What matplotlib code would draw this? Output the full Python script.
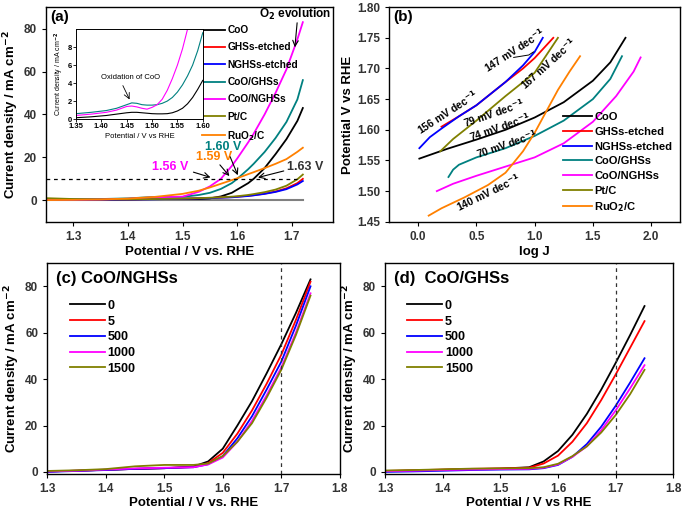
import numpy as np
import matplotlib
matplotlib.use("Agg")
import matplotlib.pyplot as plt

plt.rcParams['font.family'] = ['Liberation Sans', 'DejaVu Sans']
plt.rcParams['font.weight'] = 'bold'
plt.rcParams['axes.labelweight'] = 'bold'
plt.rcParams['axes.linewidth'] = 1.0

C_BLACK = 'black'
C_RED = '#ff0000'
C_BLUE = '#0000ff'
C_TEAL = '#008080'
C_MAG = '#ff00ff'
C_OLIVE = '#808000'
C_ORANGE = '#ff8000'

# ---------------- panel (a): LSV curves ----------------
v_a = [1.25, 1.30, 1.35, 1.40, 1.45, 1.50, 1.53, 1.55, 1.57, 1.59, 1.60, 1.62, 1.63, 1.65, 1.67, 1.69, 1.71, 1.72]
j_coo = [0.1, 0.1, 0.2, 0.4, 0.7, 0.6, 0.6, 0.9, 1.8, 3.5, 5.0, 8.0, 10.0, 15.0, 21.5, 28.5, 37.0, 43.0]
j_ghs_etched = [0.2, 0.2, 0.3, 0.4, 0.6, 0.8, 1.0, 1.1, 1.3, 1.5, 1.7, 2.1, 2.4, 3.1, 4.1, 5.6, 8.0, 10.0]
j_nghs_etched = [0.1, 0.1, 0.2, 0.3, 0.5, 0.7, 0.9, 1.0, 1.2, 1.4, 1.6, 2.0, 2.3, 3.0, 3.9, 5.2, 7.4, 9.0]
j_coo_ghs = [0.5, 0.5, 0.6, 0.9, 1.6, 1.6, 2.5, 3.5, 5.3, 8.0, 10.0, 14.5, 17.0, 22.5, 29.0, 36.5, 47.0, 56.0]
j_coo_nghs = [0.3, 0.3, 0.4, 0.7, 1.4, 1.7, 4.0, 6.5, 10.0, 16.0, 19.5, 27.0, 31.0, 40.0, 50.0, 61.0, 75.0, 83.0]
j_ptc = [1.0, 0.6, 0.4, 0.4, 0.6, 0.8, 1.0, 1.2, 1.4, 1.7, 1.9, 2.5, 2.9, 3.8, 5.0, 6.8, 9.8, 12.0]
j_ruo2 = [0.1, 0.2, 0.4, 0.8, 1.6, 3.0, 4.5, 6.0, 7.7, 9.4, 10.3, 12.2, 13.1, 15.0, 17.0, 19.2, 22.6, 24.5]

# inset (a)
v_in = [1.35, 1.38, 1.41, 1.43, 1.45, 1.46, 1.47, 1.48, 1.49, 1.50, 1.51, 1.52, 1.53, 1.54, 1.55, 1.56, 1.57, 1.58, 1.59, 1.60]
j_in_coo = [0.15, 0.25, 0.4, 0.55, 0.7, 0.75, 0.75, 0.7, 0.65, 0.6, 0.58, 0.58, 0.6, 0.7, 0.9, 1.2, 1.7, 2.4, 3.3, 4.3]
j_in_ghs = [0.6, 0.75, 0.95, 1.2, 1.6, 1.8, 1.75, 1.6, 1.55, 1.55, 1.6, 1.75, 2.0, 2.4, 3.0, 3.8, 4.8, 6.0, 7.6, 9.6]
j_in_nghs = [0.4, 0.55, 0.75, 1.0, 1.4, 1.45, 1.35, 1.2, 1.1, 1.3, 1.6, 2.2, 3.2, 4.5, 6.0, 7.8, 10.0, 12.5, 15.0, 19.0]

# ---------------- panel (b): Tafel plots ----------------
logj_coo = [0.01, 0.25, 0.5, 0.75, 1.0, 1.25, 1.5, 1.65, 1.78]
e_coo = [1.553, 1.569, 1.584, 1.600, 1.620, 1.645, 1.680, 1.710, 1.750]
logj_ghs_e = [0.2, 0.35, 0.5, 0.75, 0.9, 1.0, 1.16]
e_ghs_e = [1.605, 1.622, 1.640, 1.678, 1.700, 1.717, 1.750]
logj_nghs_e = [0.01, 0.1, 0.2, 0.35, 0.5, 0.75, 0.9, 1.0, 1.07]
e_nghs_e = [1.570, 1.588, 1.602, 1.622, 1.640, 1.678, 1.705, 1.727, 1.750]
logj_coo_ghs = [0.26, 0.3, 0.35, 0.5, 0.75, 1.0, 1.25, 1.5, 1.65, 1.75]
e_coo_ghs = [1.523, 1.535, 1.543, 1.555, 1.570, 1.590, 1.615, 1.650, 1.683, 1.720]
logj_coo_nghs = [0.16, 0.3, 0.5, 0.75, 1.0, 1.25, 1.5, 1.7, 1.85, 1.91]
e_coo_nghs = [1.500, 1.512, 1.525, 1.540, 1.555, 1.578, 1.613, 1.655, 1.695, 1.718]
logj_ptc = [0.19, 0.3, 0.5, 0.75, 1.0, 1.2]
e_ptc = [1.565, 1.585, 1.615, 1.655, 1.693, 1.750]
logj_ruo2 = [0.09, 0.2, 0.4, 0.6, 0.75, 0.9, 1.0, 1.1, 1.2, 1.3, 1.39]
e_ruo2 = [1.460, 1.472, 1.490, 1.510, 1.530, 1.565, 1.595, 1.630, 1.665, 1.695, 1.720]

# ---------------- panels (c), (d): stability ----------------
cycles = ['0', '5', '500', '1000', '1500']
cyc_colors = [C_BLACK, C_RED, C_BLUE, C_MAG, C_OLIVE]
v_cd = [1.30, 1.35, 1.40, 1.45, 1.50, 1.55, 1.575, 1.60, 1.625, 1.65, 1.675, 1.70, 1.725, 1.75]
j_c = [
    [0.2, 0.5, 0.9, 1.3, 1.6, 2.3, 4.5, 10.0, 20.0, 30.5, 42.5, 55.0, 68.5, 83.0],
    [0.2, 0.5, 0.9, 1.3, 1.6, 2.1, 3.8, 8.2, 16.5, 26.5, 38.0, 50.5, 65.5, 82.0],
    [0.0, 0.4, 0.8, 1.3, 1.6, 2.0, 3.3, 6.8, 14.5, 24.0, 35.5, 47.5, 63.0, 80.0],
    [0.2, 0.5, 1.0, 1.5, 1.8, 2.0, 3.2, 6.2, 13.0, 22.0, 33.0, 45.0, 60.0, 77.0],
    [0.4, 0.7, 1.2, 2.4, 3.0, 3.0, 3.6, 6.8, 13.0, 21.0, 32.0, 44.0, 59.0, 76.0],
]
j_d = [
    [0.3, 0.6, 0.9, 1.2, 1.4, 2.0, 4.5, 9.0, 16.0, 25.0, 35.5, 47.0, 59.0, 71.5],
    [0.4, 0.7, 1.0, 1.3, 1.5, 1.8, 3.6, 7.0, 13.0, 21.0, 31.0, 42.0, 53.5, 65.0],
    [0.0, 0.2, 0.5, 0.8, 1.0, 1.1, 1.6, 3.0, 6.5, 12.0, 19.5, 28.5, 38.5, 49.0],
    [0.3, 0.5, 0.8, 1.0, 1.2, 1.3, 1.8, 3.2, 6.5, 11.0, 18.0, 26.5, 36.0, 46.0],
    [0.6, 0.8, 1.1, 1.4, 1.5, 1.6, 2.0, 3.5, 6.8, 11.0, 17.0, 24.5, 33.5, 44.0],
]

fig = plt.figure(figsize=(6.85, 5.11), dpi=100)

lab_fs = 9.5
tick_fs = 8.5

def style_ax(ax):
    ax.tick_params(direction='out', labelsize=tick_fs, length=3, width=0.8)
    for lbl in ax.get_xticklabels() + ax.get_yticklabels():
        lbl.set_fontweight('bold')
        lbl.set_color('#333333')

# ---------------- (a) ----------------
ax = fig.add_axes([0.067, 0.566, 0.419, 0.42])
ax.plot([1.25, 1.72], [0, 0], color='#808080', lw=1.5)
series_a = [
    ('CoO', j_coo, C_BLACK),
    ('GHSs-etched', j_ghs_etched, C_RED),
    ('NGHSs-etched', j_nghs_etched, C_BLUE),
    ('CoO/GHSs', j_coo_ghs, C_TEAL),
    ('CoO/NGHSs', j_coo_nghs, C_MAG),
    ('Pt/C', j_ptc, C_OLIVE),
    ('RuO$_2$/C', j_ruo2, C_ORANGE),
]
for name, j, c in series_a:
    ax.plot(v_a, j, color=c, lw=1.3, label=name)
ax.plot([1.25, 1.71], [10, 10], ls=(0, (3, 3)), color='black', lw=0.9)
ax.set_xlim(1.25, 1.775)
ax.set_ylim(-10, 90)
ax.set_xticks([1.3, 1.4, 1.5, 1.6, 1.7])
ax.set_yticks([0, 20, 40, 60, 80])
ax.set_xlabel('Potential / V vs. RHE', fontsize=lab_fs, labelpad=2)
ax.set_ylabel('Current density / mA cm$^{-2}$', fontsize=lab_fs, labelpad=2)
style_ax(ax)
ax.text(0.015, 0.985, '(a)', transform=ax.transAxes, fontsize=11, fontweight='bold', va='top')
ax.legend(loc='upper left', bbox_to_anchor=(0.53, 0.935), fontsize=7.3, frameon=False,
          handlelength=2.3, handletextpad=0.2, labelspacing=0.72, borderaxespad=0)
ax.text(1.772, 86.5, 'O$_2$ evolution', fontsize=8.5, fontweight='bold', ha='right', va='center')
ax.annotate('', xy=(1.705, 70), xytext=(1.71, 84),
            arrowprops=dict(arrowstyle='->', color='black', lw=0.8))
arrow_kw = dict(arrowstyle='->', color='black', lw=0.8)
ax.text(1.478, 15.5, '1.56 V', color=C_MAG, fontsize=9, fontweight='bold', ha='center', va='center')
ax.annotate('', xy=(1.556, 10.3), xytext=(1.515, 13.5), arrowprops=arrow_kw)
ax.text(1.557, 20.0, '1.59 V', color=C_ORANGE, fontsize=9, fontweight='bold', ha='center', va='center')
ax.annotate('', xy=(1.589, 10.3), xytext=(1.565, 17.5), arrowprops=arrow_kw)
ax.text(1.575, 25.0, '1.60 V', color=C_TEAL, fontsize=9, fontweight='bold', ha='center', va='center')
ax.annotate('', xy=(1.603, 10.5), xytext=(1.585, 21.5), arrowprops=arrow_kw)
ax.text(1.725, 15.5, '1.63 V', color='#333333', fontsize=9, fontweight='bold', ha='center', va='center')
ax.annotate('', xy=(1.633, 10.3), xytext=(1.69, 14.0), arrowprops=arrow_kw)

# inset
axi = fig.add_axes([0.111, 0.767, 0.185, 0.176])
axi.plot(v_in, j_in_coo, color=C_BLACK, lw=0.8)
axi.plot(v_in, j_in_ghs, color=C_TEAL, lw=0.8)
axi.plot(v_in, j_in_nghs, color=C_MAG, lw=0.8)
axi.set_xlim(1.35, 1.60)
axi.set_ylim(0, 10)
axi.set_xticks([1.35, 1.40, 1.45, 1.50, 1.55, 1.60])
axi.set_yticks([0, 2, 4, 6, 8])
axi.tick_params(direction='out', labelsize=5.5, length=2, width=0.6, pad=1)
for lbl in axi.get_xticklabels() + axi.get_yticklabels():
    lbl.set_fontweight('bold')
axi.set_xlabel('Potential / V vs RHE', fontsize=5.5, labelpad=2, fontweight='normal')
axi.set_ylabel('Current density / mA cm$^{-2}$', fontsize=5, labelpad=1, fontweight='normal')
for s in axi.spines.values():
    s.set_linewidth(0.7)
axi.text(1.40, 4.6, 'Oxidation of CoO', fontsize=5.5, ha='left', va='center', fontweight='normal')
axi.annotate('', xy=(1.458, 1.9), xytext=(1.44, 4.0),
             arrowprops=dict(arrowstyle='->', color='black', lw=0.6))

# ---------------- (b) ----------------
bx = fig.add_axes([0.568, 0.566, 0.425, 0.42])
series_b = [
    ('CoO', logj_coo, e_coo, C_BLACK),
    ('GHSs-etched', logj_ghs_e, e_ghs_e, C_RED),
    ('NGHSs-etched', logj_nghs_e, e_nghs_e, C_BLUE),
    ('CoO/GHSs', logj_coo_ghs, e_coo_ghs, C_TEAL),
    ('CoO/NGHSs', logj_coo_nghs, e_coo_nghs, C_MAG),
    ('Pt/C', logj_ptc, e_ptc, C_OLIVE),
    ('RuO$_2$/C', logj_ruo2, e_ruo2, C_ORANGE),
]
for name, x, y, c in series_b:
    bx.plot(x, y, color=c, lw=1.3, label=name)
bx.set_xlim(-0.25, 2.25)
bx.set_ylim(1.45, 1.80)
bx.set_xticks([0.0, 0.5, 1.0, 1.5, 2.0])
bx.set_yticks(np.arange(1.45, 1.801, 0.05))
bx.set_yticklabels(['%.2f' % t for t in np.arange(1.45, 1.801, 0.05)])
bx.set_xlabel('log J', fontsize=lab_fs, labelpad=2)
bx.set_ylabel('Potential V vs RHE', fontsize=lab_fs, labelpad=2)
style_ax(bx)
bx.text(0.015, 0.985, '(b)', transform=bx.transAxes, fontsize=11, fontweight='bold', va='top')
bx.legend(loc='lower right', bbox_to_anchor=(1.0, 0.0), fontsize=8, frameon=False,
          handlelength=2.6, handletextpad=0.2, labelspacing=0.42, borderaxespad=0.3)
tf = 7.5
bx.text(0.25, 1.628, '156 mV dec$^{-1}$', fontsize=tf, rotation=33, ha='center', va='center')
bx.text(0.83, 1.729, '147 mV dec$^{-1}$', fontsize=tf, rotation=33, ha='center', va='center')
bx.plot([0.82, 0.95, 0.99], [1.718, 1.722, 1.727], color='black', lw=0.7)
bx.text(1.12, 1.708, '167 mV dec$^{-1}$', fontsize=tf, rotation=42, ha='center', va='center')
bx.text(0.65, 1.627, '79 mV dec$^{-1}$', fontsize=tf, rotation=19, ha='center', va='center')
bx.text(0.70, 1.604, '74 mV dec$^{-1}$', fontsize=tf, rotation=19, ha='center', va='center')
bx.text(0.76, 1.576, '70 mV dec$^{-1}$', fontsize=tf, rotation=19, ha='center', va='center')
bx.text(0.60, 1.497, '140 mV dec$^{-1}$', fontsize=tf, rotation=26, ha='center', va='center')

# ---------------- (c) and (d) ----------------
def stability(pos, curves, title, xlabel):
    a = fig.add_axes(pos)
    for lbl, j, c in zip(cycles, curves, cyc_colors):
        a.plot(v_cd, j, color=c, lw=1.3, label=lbl)
    a.axvline(1.70, ls=(0, (3, 3)), color='#333333', lw=0.9)
    a.set_xlim(1.3, 1.8)
    a.set_ylim(-1, 90)
    a.set_xticks([1.3, 1.4, 1.5, 1.6, 1.7, 1.8])
    a.set_yticks([0, 20, 40, 60, 80])
    a.set_xlabel(xlabel, fontsize=lab_fs, labelpad=1)
    a.set_ylabel('Current density / mA cm$^{-2}$', fontsize=lab_fs, labelpad=2)
    style_ax(a)
    a.text(0.03, 0.965, title, transform=a.transAxes, fontsize=12, fontweight='bold', va='top')
    a.legend(loc='upper left', bbox_to_anchor=(0.06, 0.85), frameon=False,
             handlelength=2.8, handletextpad=0.2, labelspacing=0.3, borderaxespad=0,
             prop={'weight': 'bold', 'size': 9})
    return a

stability([0.069, 0.072, 0.427, 0.413], j_c, '(c) CoO/NGHSs', 'Potential / V vs. RHE')
stability([0.562, 0.072, 0.421, 0.413], j_d, '(d)  CoO/GHSs', 'Potential / V vs RHE')

fig.savefig('out.png', dpi=100)
